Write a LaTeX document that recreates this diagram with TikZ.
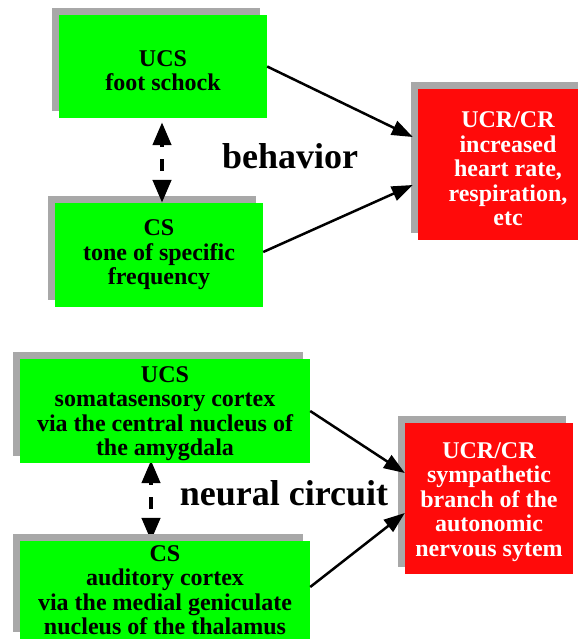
\documentclass[tikz,border=0pt]{standalone}
\usepackage{fontspec}
\setmainfont{Liberation Serif}
\usetikzlibrary{arrows.meta,shadows,calc,backgrounds}
\definecolor{boxgreen}{RGB}{0,255,0}
\definecolor{boxred}{RGB}{255,10,10}
\definecolor{shadowgray}{RGB}{168,168,168}
\newcommand{\topgap}[1]{\rule{0pt}{#1}}
\begin{document}
\begin{tikzpicture}[x=1pt,y=-1pt,
  box/.style={rectangle, inner sep=0pt, align=center,
    font=\fontsize{24}{24.5}\selectfont\bfseries,
    general shadow={fill=shadowgray, shadow xshift=-7pt, shadow yshift=7pt}},
  gbox/.style={box, fill=boxgreen, text=black},
  rbox/.style={box, fill=boxred, text=white},
  biglabel/.style={font=\fontsize{36}{40}\selectfont\bfseries, anchor=base, inner sep=0pt},
  arr/.style={line width=2.5pt, >={Triangle[length=21pt,width=15pt]}, ->},
  darr/.style={line width=4.5pt, >={Triangle[length=23pt,width=18pt]}, <->,
    dash pattern=on 3pt off 12pt on 12pt off 40pt}]
\useasboundingbox (0,0) rectangle (578,640);
\clip (0,0) rectangle (578,640);

% behavior
\node[gbox, minimum width=208pt, minimum height=103pt] (ucs1) at (163,66.5) {\topgap{24pt}UCS\\foot schock};
\node[gbox, minimum width=208pt, minimum height=104pt] (cs1) at (159,255) {CS\\tone of specific\\frequency};
\node[rbox, minimum width=180pt, minimum height=151pt] (ucr1) at (508,164.5) {\topgap{25pt}UCR/CR\\increased\\heart rate,\\respiration,\\etc};
\node[biglabel] (beh) at (290,168) {behavior};

% neural circuit
\node[gbox, minimum width=290pt, minimum height=104pt] (ucs2) at (165,411) {\topgap{21pt}UCS\\somatasensory cortex\\via the central nucleus of\\the amygdala};
\node[gbox, minimum width=290pt, minimum height=98pt] (cs2) at (165,590) {CS\\auditory cortex\\via the medial geniculate\\nucleus of the thalamus};
\node[rbox, minimum width=168pt, minimum height=151pt] (ucr2) at (489,498.5) {\topgap{23pt}UCR/CR\\sympathetic\\branch of the\\autonomic\\nervous sytem};
\node[biglabel] (neu) at (284,505) {neural circuit};

% connectors
\draw[arr] (ucs1.east) -- ($(ucr1.west)+(-5,-27.5)$);
\draw[arr] ($(cs1.east)+(0,-3)$) -- ($(ucr1.west)+(-5,20.5)$);
\draw[arr] (ucs2.east) -- ($(ucr2.west)+(0,-25.5)$);
\draw[arr] ($(cs2.east)+(0,-3)$) -- ($(ucr2.west)+(0,14.5)$);

\coordinate (d1s) at ($(ucs1.south)+(-1,4)$);
\coordinate (d1e) at (d1s |- cs1.north);
\coordinate (d2s) at ($(ucs2.south)+(-14,-3)$);
\coordinate (d2e) at (d2s |- cs2.north);
\draw[darr] (d1s) -- (d1e);
\begin{scope}[on background layer]
\draw[darr] (d2s) -- (d2e);
\end{scope}
\end{tikzpicture}
\end{document}
